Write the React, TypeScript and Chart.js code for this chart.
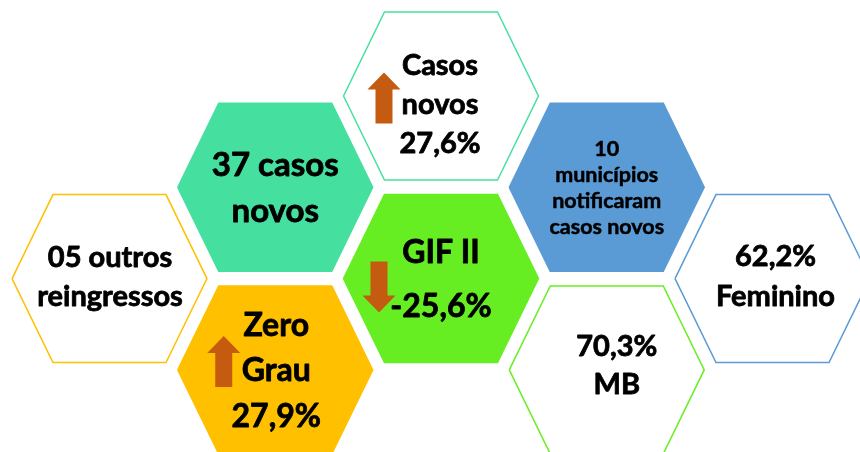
import { useEffect, useRef } from "react";
import { Chart, registerables } from "chart.js";
Chart.register(...registerables);

// honeycomb cells: column / row position of each hexagon centre
const hexCols = [0, 1, 1, 2, 2, 3, 3, 4];
const hexRows = [2, 1, 3, 0, 2, 1, 3, 2];
const hexLabels: string[][] = [
  ["05 outros", "reingressos"],
  ["37 casos", "novos"],
  ["Zero", "Grau", "27,9%"],
  ["Casos", "novos", "27,6%"],
  ["GIF II", "-25,6%"],
  ["10", "municípios", "notificaram", "casos novos"],
  ["70,3%", "MB"],
  ["62,2%", "Feminino"],
];
const hexTrend: (string | null)[] = [null, null, "up", "up", "down", null, null, null];

// styles
const hexFill = ["#FFFFFF", "#45E09F", "#FFC000", "#FFFFFF", "#66EE22", "#5B9BD5", "#FFFFFF", "#FFFFFF"];
const hexBorder = ["#FFC000", "#45E09F", "#FFC000", "#45E09F", "#66EE22", "#5B9BD5", "#66EE22", "#5B9BD5"];
const fontSizes = [29, 33, 32, 29, 32, 21.5, 29, 29];
const lineHeights = [39, 46, 45.5, 39, 54, 26, 38, 40];
const textDx = [0.5, 0, 1, -1, 0, 0, 10, 3];
const textDy = [-2.5, 0, 0, 8, 0, 0, -5, -3];
const arrowDx = [0, 0, -51.5, -57, -62, 0, 0, 0];
const arrowDy = [0, 0, -8.5, 2, 8.5, 0, 0, 0];
const ARROW_COLOR = "#C55A11";
const FONT = "Lato, 'Open Sans', sans-serif";

// hexagon shape in axis units
const HALF_W = 0.588;
const TOP_W = 0.341;
const HALF_H = 0.92;

function hexPoints(c: number, r: number) {
  return [
    { x: c - HALF_W, y: r },
    { x: c - TOP_W, y: r - HALF_H },
    { x: c + TOP_W, y: r - HALF_H },
    { x: c + HALF_W, y: r },
    { x: c + TOP_W, y: r + HALF_H },
    { x: c - TOP_W, y: r + HALF_H },
    { x: c - HALF_W, y: r },
  ];
}

const labelPlugin = {
  id: "hexLabels",
  afterDatasetsDraw(chart: any) {
    const ctx = chart.ctx;
    const xs = chart.scales.x;
    const ys = chart.scales.y;
    ctx.save();
    hexCols.forEach((c, i) => {
      const cx = xs.getPixelForValue(c);
      const cy = ys.getPixelForValue(hexRows[i]);
      const lines = hexLabels[i];
      const fs = fontSizes[i];
      const lh = lineHeights[i];
      ctx.fillStyle = "#000000";
      ctx.strokeStyle = "#000000";
      ctx.lineWidth = fs > 25 ? 0.8 : 0.5;
      ctx.lineJoin = "round";
      ctx.font = `bold ${fs}px ${FONT}`;
      ctx.textAlign = "center";
      ctx.textBaseline = "alphabetic";
      lines.forEach((t, k) => {
        const y = cy + textDy[i] + (k - (lines.length - 1) / 2) * lh + 0.36 * fs;
        ctx.fillText(t, cx + textDx[i], y);
        ctx.strokeText(t, cx + textDx[i], y);
      });
      const trend = hexTrend[i];
      if (trend) {
        const ax = cx + arrowDx[i];
        const ay = cy + arrowDy[i];
        const headW = 16.5, headH = 17, shaftW = 8.5, half = 25.5;
        const s = trend === "up" ? 1 : -1;
        const tip = ay - s * half;
        const base = ay + s * half;
        const neck = tip + s * headH;
        ctx.fillStyle = ARROW_COLOR;
        ctx.beginPath();
        ctx.moveTo(ax, tip);
        ctx.lineTo(ax + headW, neck);
        ctx.lineTo(ax + shaftW, neck);
        ctx.lineTo(ax + shaftW, base);
        ctx.lineTo(ax - shaftW, base);
        ctx.lineTo(ax - shaftW, neck);
        ctx.lineTo(ax - headW, neck);
        ctx.closePath();
        ctx.fill();
      }
    });
    ctx.restore();
  },
};

export default function App() {
  const ref = useRef<HTMLCanvasElement>(null);
  useEffect(() => {
    document.body.style.margin = "0";
    const chart = new Chart(ref.current!, {
      type: "scatter",
      data: {
        datasets: hexCols.map((c, i) => ({
          data: hexPoints(c, hexRows[i]),
          showLine: true,
          fill: "shape",
          tension: 0,
          backgroundColor: hexFill[i],
          borderColor: hexBorder[i],
          borderWidth: 1.5,
          borderJoinStyle: "miter",
          pointRadius: 0,
          pointHoverRadius: 0,
        })) as any,
      },
      options: {
        animation: false,
        responsive: false,
        maintainAspectRatio: false,
        layout: { padding: 0 },
        events: [],
        plugins: { legend: { display: false }, tooltip: { enabled: false } },
        scales: {
          x: { type: "linear", min: -0.6606, max: 4.5279, display: false },
          y: { type: "linear", reverse: true, min: -1.0515, max: 3.8993, display: false },
        },
      },
      plugins: [labelPlugin],
    });
    return () => chart.destroy();
  }, []);
  return (
    <div style={{ width: 860, height: 452, background: "#fff" }}>
      <canvas ref={ref} width={860} height={452} />
    </div>
  );
}
